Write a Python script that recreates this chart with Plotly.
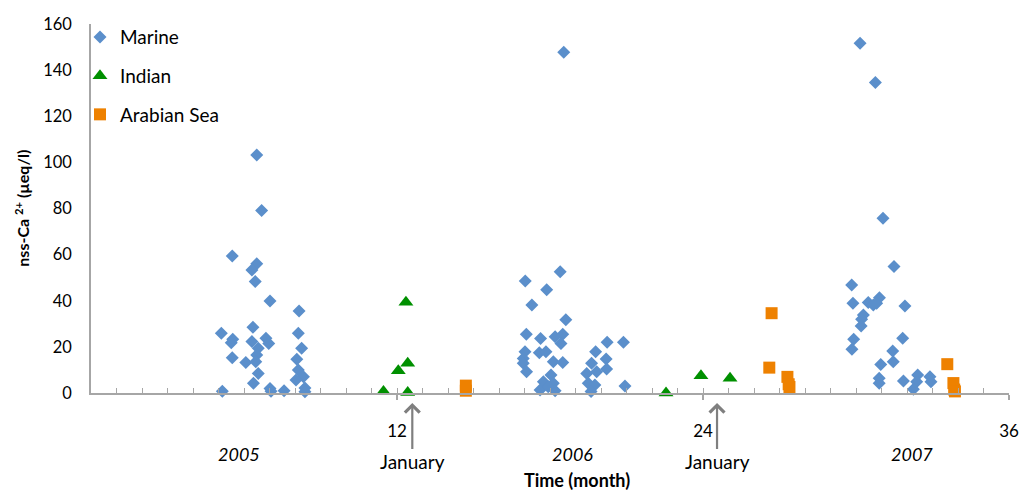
import plotly.graph_objects as go

# ---- data (month, nss-Ca2+ in µeq/l) ----
marine_month = [6.50, 6.69, 5.54, 6.50, 6.31, 6.44, 7.02, 8.16, 6.35, 5.11, 8.13, 5.56, 5.50, 6.86,
                6.97, 6.31, 6.56, 8.26, 6.50, 5.54, 6.07, 6.46, 8.07, 8.13, 6.56, 8.33, 8.04, 6.37,
                7.02, 7.57, 5.15, 7.06, 8.39, 8.39,
                18.54, 18.40, 17.03, 17.87, 17.29, 18.62, 17.07, 17.63, 18.20, 18.50, 18.43, 17.02,
                17.58, 17.84, 16.95, 16.95, 17.08, 18.13, 18.50, 18.04, 17.74, 18.13, 17.61, 18.20,
                17.93, 20.24, 20.88, 19.79, 20.20, 20.22, 19.63, 19.44, 19.83, 19.50, 19.76, 19.61,
                20.94,
                30.16, 30.76, 31.06, 31.49, 29.83, 29.88, 30.48, 30.68, 30.92, 30.81, 31.92, 30.29,
                30.22, 30.20, 29.91, 31.83, 29.84, 31.44, 31.46, 30.97, 30.91, 30.91, 31.86, 32.42,
                32.38, 32.25, 32.90, 32.94]
marine_value = [103.2, 79.1, 59.4, 56.0, 53.3, 48.3, 39.9, 35.6, 28.5, 25.9, 25.9, 23.3, 21.8, 23.7,
                21.5, 22.3, 19.4, 19.4, 16.5, 15.3, 13.2, 13.6, 14.6, 10.0, 8.5, 7.1, 5.6, 4.2,
                2.0, 1.0, 0.8, 0.8, 2.2, 0.5,
                147.7, 52.6, 48.6, 44.8, 38.2, 31.8, 25.5, 23.6, 24.4, 25.5, 21.5, 17.9,
                17.5, 17.9, 15.0, 12.9, 9.2, 13.6, 13.2, 7.8, 4.9, 4.2, 1.3, 1.0,
                2.7, 22.0, 22.0, 17.9, 14.7, 10.4, 12.9, 8.5, 9.2, 4.2, 3.5, 0.6,
                3.0,
                151.6, 134.6, 75.8, 54.8, 46.8, 38.9, 39.2, 38.2, 41.3, 38.9, 37.7, 33.8,
                32.0, 29.1, 23.3, 23.7, 19.0, 18.2, 13.6, 12.4, 6.4, 4.2, 5.2, 7.8,
                4.9, 1.6, 7.1, 4.9]

indian_month = [12.35, 12.42, 12.05, 11.47, 12.42, 22.55, 23.92, 25.06]
indian_value = [39.3, 12.9, 9.7, 0.6, 0.2, 0.0, 7.5, 6.4]

arabian_month = [14.70, 14.70, 26.69, 26.60, 27.31, 27.36, 27.39, 33.58, 33.82, 33.85, 33.88]
arabian_value = [3.2, 1.0, 34.6, 11.0, 7.0, 3.8, 2.6, 12.5, 4.3, 1.5, 0.7]

x_ticks = [12, 24, 36]
x_ticktext = ["12", "24", "36"]
y_ticks = [0, 20, 40, 60, 80, 100, 120, 140, 160]
year_pos = [5.8, 18.9, 32.2]
year_text = ["2005", "2006", "2007"]
january_pos = [12.6, 24.55]

FONT = "Lato"
AXIS_GREY = "#A6A6A6"

fig = go.Figure()
fig.add_trace(go.Scatter(x=marine_month, y=marine_value, mode="markers", name="Marine",
                         legendgroup="m", cliponaxis=False,
                         marker=dict(symbol="diamond", size=10, color="#5B8FCB", line=dict(width=0))))
fig.add_trace(go.Scatter(x=indian_month, y=indian_value, mode="markers", name="Indian",
                         legendgroup="i", cliponaxis=False,
                         marker=dict(symbol="triangle-up", size=13, color="#009000", line=dict(width=0))))
fig.add_trace(go.Scatter(x=arabian_month, y=arabian_value, mode="markers", name="Arabian Sea",
                         legendgroup="a", cliponaxis=False,
                         marker=dict(symbol="square", size=12, color="#EE8100", line=dict(width=0))))
# invisible trace carrying the axis used for the inner monthly ticks
fig.add_trace(go.Scatter(x=[0], y=[0], xaxis="x2", mode="markers", showlegend=False,
                         marker=dict(opacity=0), hoverinfo="skip"))

fig.update_layout(
    width=1026, height=491, autosize=False,
    margin=dict(l=91, r=17, t=24, b=98, autoexpand=False),
    plot_bgcolor="white", paper_bgcolor="white",
    font=dict(family=FONT, size=16, color="#000000"),
    showlegend=True,
    legend=dict(x=-0.012, y=1.016, xanchor="left", yanchor="top",
                traceorder="grouped", tracegroupgap=11,
                font=dict(family=FONT, size=19), bgcolor="rgba(0,0,0,0)"),
    xaxis=dict(range=[0, 36], showgrid=False, zeroline=False, automargin=False,
               showline=True, linecolor=AXIS_GREY, linewidth=1.5,
               tickmode="array", tickvals=x_ticks, ticktext=x_ticktext,
               ticks="outside", ticklen=5, tickwidth=1.5, tickcolor=AXIS_GREY,
               ticklabelstandoff=17, tickfont=dict(size=17)),
    xaxis2=dict(range=[0, 36], overlaying="x", anchor="y", side="bottom",
                showgrid=False, zeroline=False, showline=False, automargin=False,
                tickmode="linear", tick0=0, dtick=1,
                ticks="inside", ticklen=5, tickwidth=1.2, tickcolor=AXIS_GREY,
                showticklabels=False),
    yaxis=dict(range=[0, 160], showgrid=False, zeroline=False, automargin=False,
               showline=True, linecolor=AXIS_GREY, linewidth=1.5,
               tickmode="array", tickvals=y_ticks, ticks="",
               ticklabelstandoff=14, tickfont=dict(size=16.5)),
)

annotations = []
annotations.append(dict(xref="paper", yref="paper", x=-0.075, y=0.5, xanchor="center", yanchor="middle",
                        text="<b>nss-Ca <sup>2+</sup> (µeq/l)</b>", textangle=-90,
                        showarrow=False, font=dict(family=FONT, size=16)))
annotations.append(dict(xref="x", yref="paper", x=19.05, y=-0.236, xanchor="center", yanchor="middle",
                        text="<b>Time (month)</b>", showarrow=False,
                        font=dict(family=FONT, size=18)))
for xp, yt in zip(year_pos, year_text):
    annotations.append(dict(xref="x", yref="paper", x=xp, y=-0.166, xanchor="center", yanchor="middle",
                            text="<i>" + yt + "</i>",
                            showarrow=False, font=dict(family=FONT, size=18)))
for jp in january_pos:
    annotations.append(dict(xref="x", yref="paper", x=jp, y=-0.027, text="January",
                            showarrow=True, ax=0, ay=59, arrowhead=4, arrowsize=1.3, standoff=0,
                            arrowwidth=2.2, arrowcolor="#7F7F7F",
                            font=dict(family=FONT, size=19)))
fig.update_layout(annotations=annotations)

# remove the default page margin so the 1026x491 figure fills the window exactly
fig.write_html("out.html",
               config={"displayModeBar": False, "responsive": False},
               post_script="document.body.style.margin='0';document.body.style.overflow='hidden';")
